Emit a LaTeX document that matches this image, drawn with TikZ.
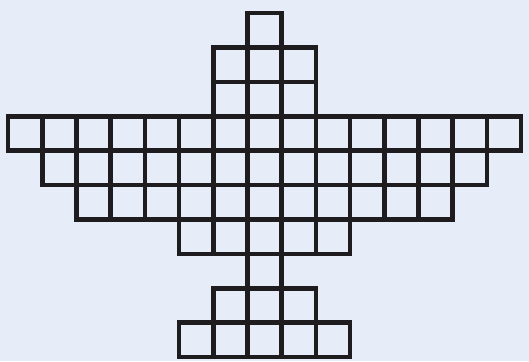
\documentclass[tikz,border=0pt]{standalone}
\definecolor{bg}{RGB}{230,237,249}
\definecolor{ink}{RGB}{30,28,30}
\tikzset{cell/.style={draw=ink,line width=4.6pt}}
\begin{document}
\begin{tikzpicture}[x=1pt,y=-1pt]
\fill[bg] (0,0) rectangle (529,361);
\useasboundingbox (0,0) rectangle (529,361);
\def\cx{34.2}\def\cy{34.4}
\foreach \r/\a/\b in {0/7/7,1/6/8,2/6/8,3/0/14,4/1/13,5/2/12,6/5/9,7/7/7,8/6/8,9/5/9}{
  \foreach \c in {\a,...,\b}{
    \draw[cell] ({8+\c*\cx},{13+\r*\cy}) rectangle ({8+(\c+1)*\cx},{13+(\r+1)*\cy});
  }
}
\end{tikzpicture}
\end{document}
